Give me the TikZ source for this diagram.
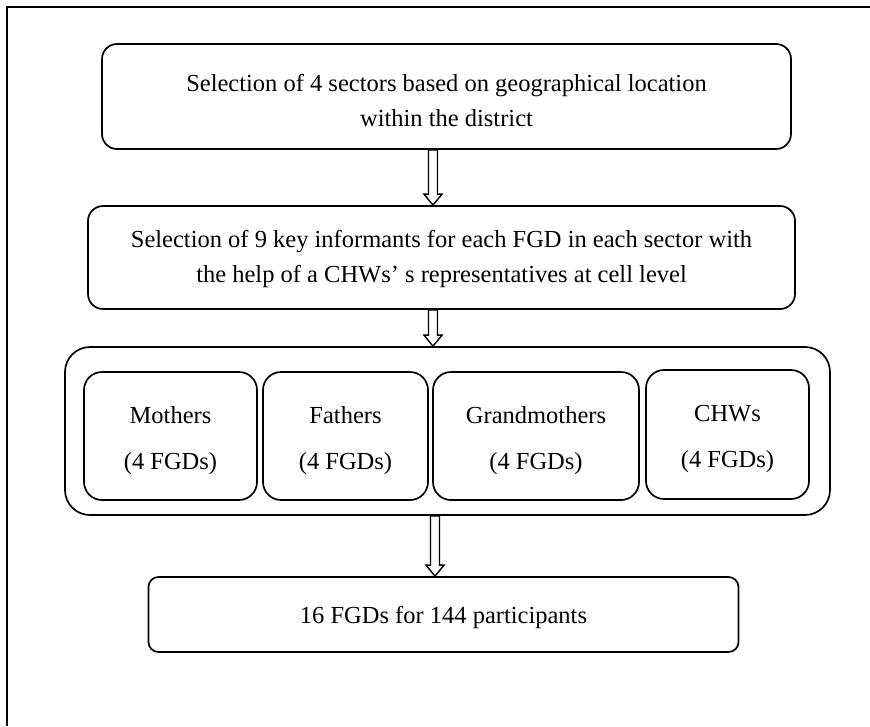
\documentclass[tikz,border=0pt]{standalone}
\usepackage{fontspec}
\setmainfont{Liberation Serif}
\usetikzlibrary{calc}
\tikzset{
  every node/.style={font=\fontsize{24.5}{35}\selectfont},
  box/.style={draw, line width=1.7pt, rounded corners=15pt, inner sep=0pt},
  sub/.style={draw, line width=1.7pt, rounded corners=18pt, inner sep=0pt, minimum height=128pt},
  txt/.style={align=center, inner sep=0pt},
  arr/.style={draw, line width=1.4pt, fill=white, line join=miter},
  frame/.style={line width=2pt}
}
\begin{document}
\begin{tikzpicture}[x=1pt,y=-1pt]
\useasboundingbox (0,0) rectangle (870,726);
% page frame (only top and left edges visible)
\draw[frame] (6.5,726) -- (6.5,6.5) -- (870,6.5);

\node[box, minimum width=689pt, minimum height=105pt] (b1) at (446.5,96.5) {};
\node[txt] (t1) at ($(b1.center)+(0,4)$)
  {Selection of 4 sectors based on geographical location\\within the district};
\node[box, minimum width=707pt, minimum height=103pt] (b2) at (441.5,257.5) {};
\node[txt] (t2) at ($(b2.center)+(0,1)$)
  {Selection of 9 key informants for each FGD in each sector with\\the help of a CHWs’ s representatives at cell level};
\node[box, rounded corners=25pt, minimum width=765pt, minimum height=168pt] (grp) at (447.5,431) {};
\node[sub, minimum width=173pt] (m) at (170.5,436) {};
\node[sub, minimum width=165pt] (f) at (345.5,436) {};
\node[sub, minimum width=206pt] (g) at (536,436) {};
\node[sub, minimum width=163pt, minimum height=129pt] (c) at (727.5,434.5) {};
\node[txt] (tm) at ($(m.center)+(0,5)$) {Mothers\\[11pt](4 FGDs)};
\node[txt] (tf) at ($(f.center)+(0,5)$) {Fathers\\[11pt](4 FGDs)};
\node[txt] (tg) at ($(g.center)+(0,5)$) {Grandmothers\\[11pt](4 FGDs)};
\node[txt] (tc) at ($(c.center)+(0,4)$) {CHWs\\[11pt](4 FGDs)};
\node[box, rounded corners=10pt, minimum width=590pt, minimum height=75pt] (b4) at (443.5,614.5) {};
\node[txt] (t4) at ($(b4.center)+(0,3)$) {16 FGDs for 144 participants};

\coordinate (a1) at (433,0);
\coordinate (a3) at (435,0);
\draw[arr] ($(b1.south -| a1)+(-4.5,0)$) -- ($(b2.north -| a1)+(-4.5,-11)$) -- ++(-4.5,0)
  -- (b2.north -| a1) -- ++(9,-11) -- ++(-4.5,0) -- ($(b1.south -| a1)+(4.5,0)$) -- cycle;
\draw[arr] ($(b2.south -| a1)+(-4.5,0)$) -- ($(grp.north -| a1)+(-4.5,-11)$) -- ++(-4.5,0)
  -- (grp.north -| a1) -- ++(9,-11) -- ++(-4.5,0) -- ($(b2.south -| a1)+(4.5,0)$) -- cycle;
\draw[arr] ($(grp.south -| a3)+(-4.5,0)$) -- ($(b4.north -| a3)+(-4.5,-11)$) -- ++(-4.5,0)
  -- (b4.north -| a3) -- ++(9,-11) -- ++(-4.5,0) -- ($(grp.south -| a3)+(4.5,0)$) -- cycle;
\end{tikzpicture}
\end{document}
